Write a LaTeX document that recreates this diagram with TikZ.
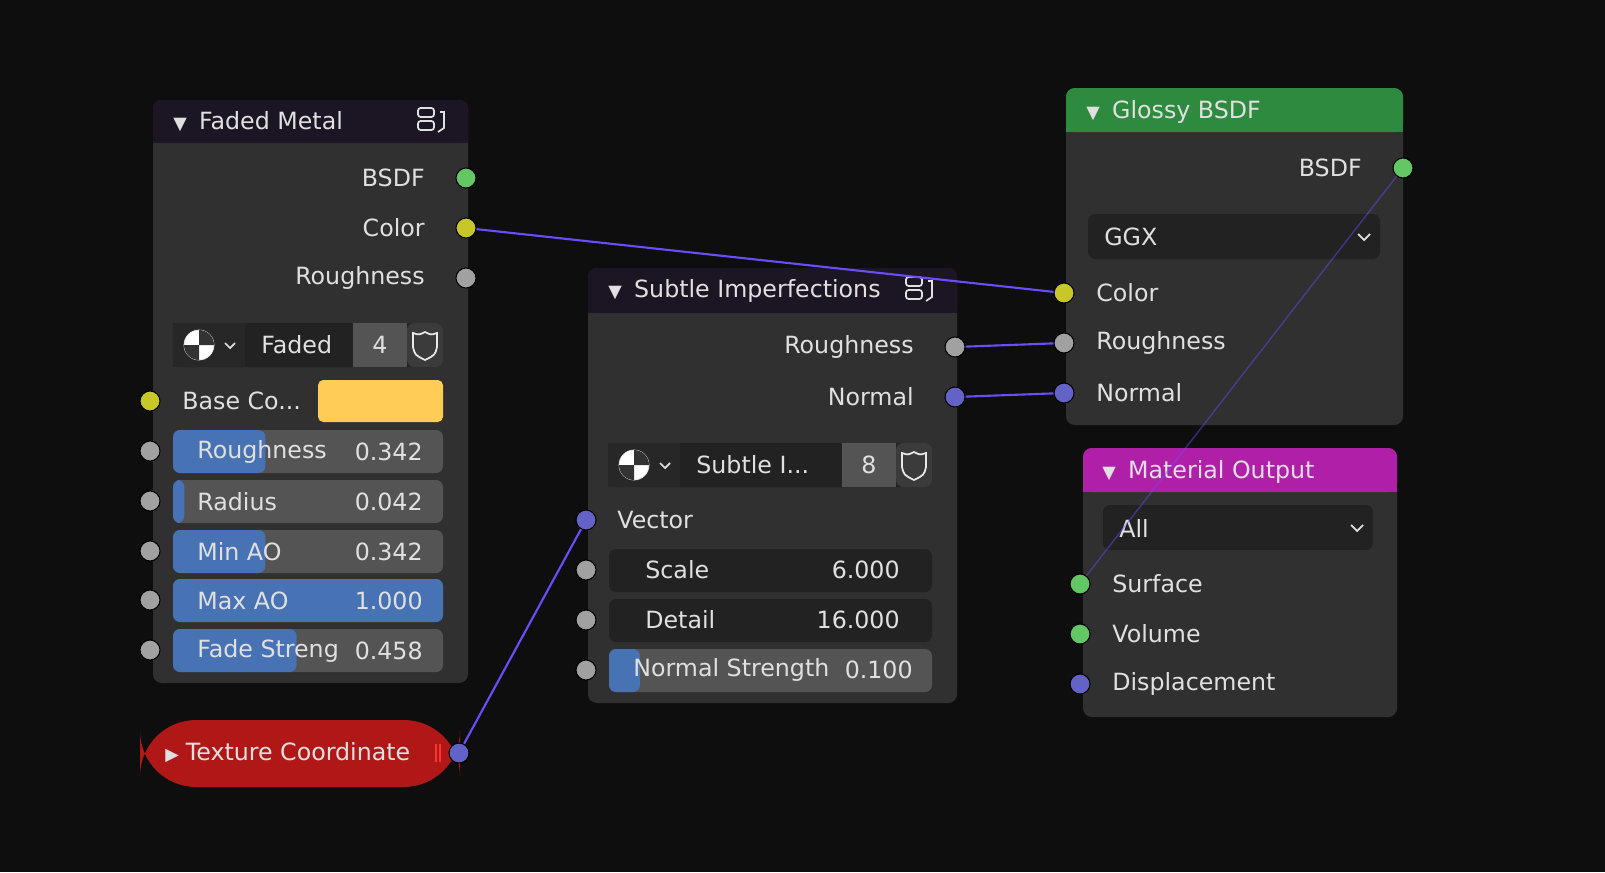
\documentclass[tikz,border=0pt]{standalone}
\usepackage{fontspec}
\setmainfont{DejaVu Sans}
\definecolor{bgc}{HTML}{0E0E0E}
\definecolor{body}{HTML}{303030}
\definecolor{grphead}{HTML}{1C1624}
\definecolor{glossyhead}{HTML}{2E8A3E}
\definecolor{outhead}{HTML}{B01FA8}
\definecolor{texred}{HTML}{B01818}
\definecolor{field}{HTML}{545454}
\definecolor{darkfield}{HTML}{222222}
\definecolor{blueslide}{HTML}{4772B3}
\definecolor{swatch}{HTML}{FFCC55}
\definecolor{txt}{HTML}{E0E0E0}
\definecolor{sgreen}{HTML}{63C763}
\definecolor{syellow}{HTML}{C7C729}
\definecolor{sgrey}{HTML}{A1A1A1}
\definecolor{sviolet}{HTML}{6363C7}
\definecolor{link}{HTML}{6B4CFF}
\usetikzlibrary{positioning}
\tikzset{
every node/.style={text=txt, font=\fontsize{13.5}{16}\selectfont},
sock/.style={circle, draw=black, line width=0.6pt, minimum size=0.4cm, inner sep=0pt},
lab/.style={inner sep=0pt},
nodebody/.style={fill=body, rounded corners=5pt},
wire/.style={link, line width=1.2pt}
}
\newcommand{\slider}[6]{% x, y, label, value, fraction, fill colour
  \fill[field, rounded corners=4pt] (#1,#2) rectangle ++(270,43);
  \fill[#6, rounded corners=4pt] (#1,#2) rectangle ++({270*#5+0.01},43);
  \node[lab, anchor=west] at (#1+24,#2+21.5) {#3};
  \node[lab, anchor=east] at (#1+250,#2+21.5) {#4};
}
\newcommand{\groupicon}[2]{%
  \draw[txt, line width=1pt, rounded corners=1.5pt] (#1,#2) rectangle ++(16,9) (#1,#2+13) rectangle ++(16,9);
  \draw[txt, line width=1pt] (#1+22,#2+4) -- (#1+26,#2+4) -- (#1+26,#2+20) -- (#1+20,#2+24);
}
\newcommand{\selector}[5]{% x, y, width, name, number
  \fill[darkfield, rounded corners=4pt] (#1,#2) rectangle ++(#3,44);
  \fill[field] (#1+#3-90,#2) rectangle ++(54,44);
  \fill[field!70!black, rounded corners=4pt] (#1+#3-36,#2) rectangle ++(36,44);
  \fill[body!80!black] (#1,#2) rectangle ++(72,44);
  \draw[txt, fill=white] (#1+26,#2+22) circle (15);
  \fill[black!80] (#1+26,#2+22) -- ++(15,0) arc (0:-90:15) -- cycle;
  \fill[black!80] (#1+26,#2+22) -- ++(-15,0) arc (180:90:15) -- cycle;
  \draw[txt, line width=1pt] (#1+52,#2+20) -- ++(5,5) -- ++(5,-5);
  \node[lab, anchor=west] at (#1+88,#2+22) {#4};
  \node[lab] at (#1+#3-63,#2+22) {#5};
  \draw[txt!70, line width=1pt] (#1+#3-18,#2+9) .. controls (#1+#3-24,#2+12) .. (#1+#3-30,#2+10) -- (#1+#3-30,#2+24) .. controls (#1+#3-28,#2+32) .. (#1+#3-18,#2+37) .. controls (#1+#3-8,#2+32) .. (#1+#3-6,#2+24) -- (#1+#3-6,#2+10) .. controls (#1+#3-12,#2+12) .. cycle;
}
\begin{document}
\begin{tikzpicture}[x=0.02cm, y=-0.02cm]
\fill[bgc] (0,0) rectangle (1605,872);
\useasboundingbox (0,0) rectangle (1605,872);

% Faded Metal
\fill[nodebody] (153,100) rectangle (468,683);
\fill[grphead, rounded corners=5pt] (153,100) rectangle (468,143);
\fill[grphead] (153,130) rectangle (468,143);
\node[lab, anchor=west] (fmtitle) at (173,122) {\fontsize{10}{12}\selectfont▼\hspace{0.7em}\fontsize{13.5}{16}\selectfont Faded Metal};
\groupicon{418}{108}
\node[lab, anchor=east] (fmbsdfl) at (425,178) {BSDF};
\node[sock, fill=sgreen] (fmbsdf) at (466,178) {};
\node[lab, anchor=east] (fmcolorl) at (425,228) {Color};
\node[sock, fill=syellow] (fmcolor) at (466,228) {};
\node[lab, anchor=east] (fmroughl) at (425,278) {Roughness};
\node[sock, fill=sgrey] (fmrough) at (466,278) {};
\selector{173}{323}{270}{Faded}{4}
\node[sock, fill=syellow] (fmbase) at (150,401) {};
\node[lab, anchor=west] at (182,401) {Base Co...};
\fill[swatch, rounded corners=3pt] (318,380) rectangle (443,422);
\slider{173}{430}{Roughness}{0.342}{0.342}{blueslide}
\node[sock, fill=sgrey] (fmr) at (150,451) {};
\slider{173}{480}{Radius}{0.042}{0.042}{blueslide}
\node[sock, fill=sgrey] (fmrad) at (150,501) {};
\slider{173}{530}{Min AO}{0.342}{0.342}{blueslide}
\node[sock, fill=sgrey] (fmmin) at (150,551) {};
\slider{173}{579}{Max AO}{1.000}{1}{blueslide}
\node[sock, fill=sgrey] (fmmax) at (150,600) {};
\slider{173}{629}{Fade Streng}{0.458}{0.458}{blueslide}
\node[sock, fill=sgrey] (fmfade) at (150,650) {};

% Texture Coordinate
\fill[texred, rounded corners=32pt] (140,720) rectangle (460,787);
\node[lab, anchor=west] (tctitle) at (165,753) {\fontsize{10}{12}\selectfont▶\hspace{0.4em}\fontsize{13.5}{16}\selectfont Texture Coordinate};
\draw[red!80!white, line width=1pt] (436,744) -- (436,762) (440,744) -- (440,762);
\node[sock, fill=sviolet] (tcout) at (459,753) {};

% Subtle Imperfections
\fill[nodebody] (588,268) rectangle (957,703);
\fill[grphead, rounded corners=5pt] (588,268) rectangle (957,313);
\fill[grphead] (588,300) rectangle (957,313);
\node[lab, anchor=west] (sititle) at (608,291) {\fontsize{10}{12}\selectfont▼\hspace{0.7em}\fontsize{13.5}{16}\selectfont Subtle Imperfections};
\groupicon{906}{277}
\node[lab, anchor=east] at (914,347) {Roughness};
\node[sock, fill=sgrey] (sirough) at (955,347) {};
\node[lab, anchor=east] at (914,397) {Normal};
\node[sock, fill=sviolet] (sinormal) at (955,397) {};
\selector{608}{443}{324}{Subtle I...}{8}
\node[sock, fill=sviolet] (sivector) at (586,520) {};
\node[lab, anchor=west] at (617,520) {Vector};
\fill[darkfield, rounded corners=4pt] (609,549) rectangle ++(323,43);
\node[lab, anchor=west] at (645,570) {Scale};
\node[lab, anchor=east] at (900,570) {6.000};
\node[sock, fill=sgrey] (siscale) at (586,570) {};
\fill[darkfield, rounded corners=4pt] (609,599) rectangle ++(323,43);
\node[lab, anchor=west] at (645,620) {Detail};
\node[lab, anchor=east] at (900,620) {16.000};
\node[sock, fill=sgrey] (sidetail) at (586,620) {};
\fill[field, rounded corners=4pt] (609,649) rectangle ++(323,43);
\fill[blueslide, rounded corners=4pt] (609,649) rectangle ++(31,43);
\node[lab, anchor=west] at (633,670) {Normal Strength};
\node[lab, anchor=east] at (913,670) {0.100};
\node[sock, fill=sgrey] (sistrength) at (586,670) {};

% Glossy BSDF
\fill[nodebody] (1066,88) rectangle (1403,425);
\fill[glossyhead, rounded corners=5pt] (1066,88) rectangle (1403,132);
\fill[glossyhead] (1066,120) rectangle (1403,132);
\node[lab, anchor=west] (gbtitle) at (1086,112) {\fontsize{10}{12}\selectfont▼\hspace{0.7em}\fontsize{13.5}{16}\selectfont Glossy BSDF};
\node[lab, anchor=east] at (1362,168) {BSDF};
\node[sock, fill=sgreen] (gbbsdf) at (1403,168) {};
\fill[darkfield, rounded corners=4pt] (1088,214) rectangle (1380,259);
\node[lab, anchor=west] at (1104,237) {GGX};
\draw[txt, line width=1pt] (1358,234) -- ++(6,6) -- ++(6,-6);
\node[sock, fill=syellow] (gbcolor) at (1064,293) {};
\node[lab, anchor=west] at (1096,293) {Color};
\node[sock, fill=sgrey] (gbrough) at (1064,343) {};
\node[lab, anchor=west] at (1096,343) {Roughness};
\node[sock, fill=sviolet] (gbnormal) at (1064,393) {};
\node[lab, anchor=west] at (1096,393) {Normal};

% Material Output
\fill[nodebody] (1083,448) rectangle (1397,717);
\fill[outhead, rounded corners=5pt] (1083,448) rectangle (1397,492);
\fill[outhead] (1083,480) rectangle (1397,492);
\node[lab, anchor=west] (motitle) at (1102,472) {\fontsize{10}{12}\selectfont▼\hspace{0.7em}\fontsize{13.5}{16}\selectfont Material Output};
\fill[darkfield, rounded corners=4pt] (1103,505) rectangle (1373,550);
\node[lab, anchor=west] at (1119,528) {All};
\draw[txt, line width=1pt] (1351,525) -- ++(6,6) -- ++(6,-6);
\node[sock, fill=sgreen] (mosurface) at (1080,584) {};
\node[lab, anchor=west] at (1112,584) {Surface};
\node[sock, fill=sgreen] (movolume) at (1080,634) {};
\node[lab, anchor=west] at (1112,634) {Volume};
\node[sock, fill=sviolet] (modisp) at (1080,684) {};
\node[lab, anchor=west] at (1112,684) {Displacement};

% links
\draw[wire] (fmcolor) -- (gbcolor);
\draw[wire] (sirough) -- (gbrough);
\draw[wire] (sinormal) -- (gbnormal);
\draw[wire] (tcout) -- (sivector);
\draw[wire, line width=0.8pt, opacity=0.45] (gbbsdf) -- (mosurface);
\end{tikzpicture}
\end{document}
